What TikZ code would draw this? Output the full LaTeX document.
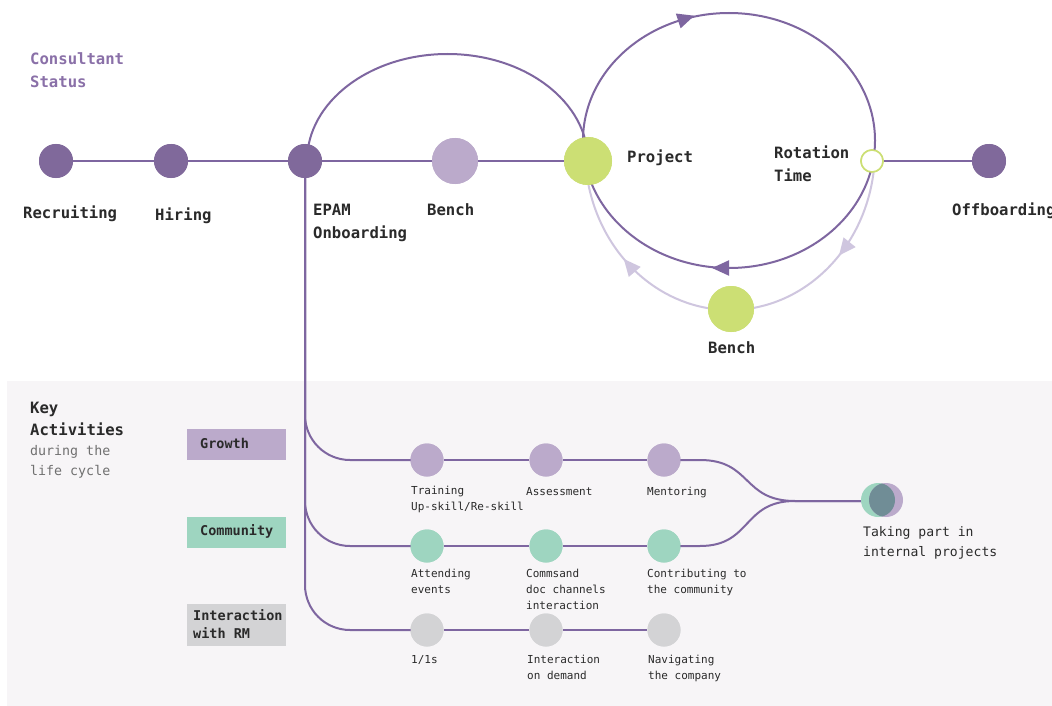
\documentclass[tikz,border=0pt]{standalone}
\usepackage{fontspec}
\setmonofont{DejaVu Sans Mono}
\usetikzlibrary{arrows.meta,decorations.markings}

\definecolor{darkpurple}{HTML}{80699B}
\definecolor{linepurple}{HTML}{7E66A0}
\definecolor{lilac}{HTML}{BBAACB}
\definecolor{lime}{HTML}{CCDF74}
\definecolor{mint}{HTML}{9ED5C0}
\definecolor{softgray}{HTML}{D3D3D5}
\definecolor{lavender}{HTML}{CFC6DF}
\definecolor{panelbg}{HTML}{F7F5F7}
\definecolor{ink}{HTML}{2A2A2A}
\definecolor{mutedink}{HTML}{707070}
\definecolor{titlepurple}{HTML}{8A70A8}
\definecolor{overlapteal}{HTML}{708D96}

% multi-line labels are placed by the baseline of their last line
\tikzset{
  dot/.style={circle, inner sep=0pt, minimum size=#1},
  stage/.style={dot=34pt, fill=darkpurple},
  flow/.style={draw=linepurple, line width=2pt},
  backflow/.style={draw=lavender, line width=2pt},
  biglabel/.style={font=\ttfamily\bfseries\fontsize{15.6}{23}\selectfont, text=ink,
                   anchor=base west, inner sep=0pt, align=left},
  smalllabel/.style={font=\ttfamily\fontsize{11}{15.8}\selectfont, text=ink,
                     anchor=base west, inner sep=0pt, align=left},
  boxlabel/.style={font=\ttfamily\bfseries\fontsize{13.5}{18}\selectfont, text=ink,
                   anchor=base west, inner sep=0pt, align=left},
  tag/.style={inner sep=0pt, minimum width=99pt, anchor=north west},
  activity/.style={dot=33pt, fill=#1},
}

\begin{document}
\begin{tikzpicture}[x=1pt, y=1pt]
  % canvas and activities panel
  \fill[white] (0,0) rectangle (1052,-706);
  \useasboundingbox (0,0) rectangle (1052,-706);
  \fill[panelbg] (7,-381) rectangle (1052,-706);

  % consultant status nodes
  \node[stage] (recruit) at (56,-161) {};
  \node[stage] (hiring) at (171,-161) {};
  \node[stage] (epam) at (305,-161) {};
  \node[dot=46pt, fill=lilac] (bench) at (455,-161) {};
  \node[dot=48pt, fill=lime] (project) at (588,-161) {};
  \node[dot=22pt, fill=white, draw=lime, line width=1.6pt] (rotation) at (872,-161) {};
  \node[stage] (offboard) at (989,-161) {};
  \node[dot=46pt, fill=lime] (bench2) at (731,-309) {};

  % activity nodes
  \node[activity=lilac] (g1) at (427,-460) {};
  \node[activity=lilac] (g2) at (546,-460) {};
  \node[activity=lilac] (g3) at (664,-460) {};
  \node[activity=mint] (c1) at (427,-546) {};
  \node[activity=mint] (c2) at (546,-546) {};
  \node[activity=mint] (c3) at (664,-546) {};
  \node[activity=softgray] (r1) at (427,-630) {};
  \node[activity=softgray] (r2) at (546,-630) {};
  \node[activity=softgray] (r3) at (664,-630) {};
  \coordinate (merge) at (878,-501);

  % status line
  \path[flow] (recruit) -- (hiring) -- (epam) -- (bench) -- (project);
  \draw[linepurple, line width=1.5pt] (rotation) -- (offboard);
  % detour from onboarding straight to project
  \draw[linepurple, line width=2pt] (epam.center) ++(2,0)
     arc[start angle=180, end angle=0, x radius=140.5, y radius=107];
  % project cycle
  \draw[linepurple, line width=2pt,
        decoration={markings,
          mark=at position 0.31 with {\arrow{Triangle[reversed,length=17pt,width=15pt]}},
          mark=at position 0.75 with {\arrow{Triangle[reversed,length=17pt,width=15pt]}}},
        postaction={decorate}]
     (729,-140.5) ellipse[x radius=146, y radius=127.5];
  % return path through bench
  \draw[backflow,
        decoration={markings,
          mark=at position 0.21 with {\arrow{Triangle[length=17pt,width=15pt]}},
          mark=at position 0.78 with {\arrow{Triangle[length=17pt,width=15pt]}}},
        postaction={decorate}]
     (730,-150) ++(352:145 and 160) arc[start angle=352, end angle=188, x radius=145, y radius=160];

  % activity lines
  \draw[flow, rounded corners=45pt] (epam.center) |- (g1.center);
  \draw[flow, rounded corners=45pt] (epam.center) |- (c1.center);
  \draw[flow, rounded corners=45pt] (epam.center) |- (r1.center);
  \draw[flow] (g1) -- (g2) -- (g3);
  \draw[flow] (c1) -- (c2) -- (c3);
  \draw[flow] (r1) -- (r2) -- (r3);
  \draw[flow] (g3.center) -- (700,-460) .. controls (752,-460) and (742,-501) .. (795,-501) -- (merge);
  \draw[flow] (c3.center) -- (700,-546) .. controls (752,-546) and (742,-501) .. (795,-501) -- (merge);

  % dots on top of the lines
  \node[stage] at (recruit) {};
  \node[stage] at (hiring) {};
  \node[stage] at (epam) {};
  \node[dot=46pt, fill=lilac] at (bench) {};
  \node[dot=48pt, fill=lime] at (project) {};
  \node[dot=22pt, fill=white, draw=lime, line width=1.6pt] at (rotation) {};
  \node[stage] at (offboard) {};
  \node[dot=46pt, fill=lime] at (bench2) {};
  \foreach \n in {g1,g2,g3} \node[activity=lilac] at (\n) {};
  \foreach \n in {c1,c2,c3} \node[activity=mint] at (\n) {};
  \foreach \n in {r1,r2,r3} \node[activity=softgray] at (\n) {};

  % merged node: internal projects
  \fill[mint] (878,-500) circle[radius=17];
  \fill[lilac] (886,-500) circle[radius=17];
  \begin{scope}
    \clip (878,-500) circle[radius=17];
    \fill[overlapteal] (886,-500) circle[radius=17];
  \end{scope}

  % status labels
  \node[biglabel, text=titlepurple] (title) at (30,-88) {Consultant\\Status};
  \node[biglabel] (lrecruit) at (23,-218) {Recruiting};
  \node[biglabel] (lhiring) at (155,-220) {Hiring};
  \node[biglabel] (lepam) at (313,-238) {EPAM\\Onboarding};
  \node[biglabel] (lbench) at (427,-215) {Bench};
  \node[biglabel] (lproject) at (627,-162) {Project};
  \node[biglabel] (lrotation) at (774,-182) {Rotation\\Time};
  \node[biglabel] (loff) at (952,-215) {Offboarding};
  \node[biglabel] (lbench2) at (708,-353) {Bench};

  % activities heading
  \node[biglabel] (keyact) at (30,-435) {Key\\[-1pt]Activities};
  \node[smalllabel, font=\ttfamily\fontsize{13.3}{20}\selectfont, text=mutedink] (during) at (30,-475) {during the\\life cycle};

  % category tags
  \node[tag, fill=lilac, minimum height=31pt] (tgrowth) at (187,-429) {};
  \node[boxlabel] at (200,-448) {Growth};
  \node[tag, fill=mint, minimum height=31pt] (tcomm) at (187,-517) {};
  \node[boxlabel] at (200,-535) {Community};
  \node[tag, fill=softgray, minimum height=42pt] (trm) at (187,-604) {};
  \node[boxlabel] at (193,-638) {Interaction\\with RM};

  % activity labels
  \node[smalllabel] at (411,-510) {Training\\Up-skill/Re-skill};
  \node[smalllabel] at (526,-495) {Assessment};
  \node[smalllabel] at (647,-495) {Mentoring};
  \node[smalllabel] at (411,-593) {Attending\\events};
  \node[smalllabel] at (526,-609) {Commsand\\doc channels\\interaction};
  \node[smalllabel] at (647,-593) {Contributing to\\the community};
  \node[smalllabel] at (411,-663) {1/1s};
  \node[smalllabel] at (527,-679) {Interaction\\on demand};
  \node[smalllabel] at (648,-679) {Navigating\\the company};
  \node[smalllabel, font=\ttfamily\fontsize{13.1}{19.5}\selectfont] at (863,-556) {Taking part in\\internal projects};
\end{tikzpicture}
\end{document}
